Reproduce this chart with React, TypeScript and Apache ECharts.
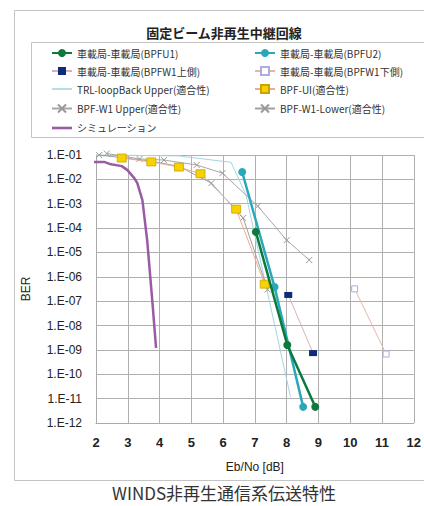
import React, { useEffect, useRef } from "react";
import * as echarts from "echarts";

const xTicks = [2, 3, 4, 5, 6, 7, 8, 9, 10, 11, 12];
const yMinExp = -12;
const yMaxExp = -1;

const names = [
  "車載局-車載局(BPFU1)",
  "車載局-車載局(BPFU2)",
  "車載局-車載局(BPFW1上側)",
  "車載局-車載局(BPFW1下側)",
  "TRL-loopBack Upper(適合性)",
  "BPF-UI(適合性)",
  "BPF-W1 Upper(適合性)",
  "BPF-W1-Lower(適合性)",
  "シミュレーション",
];

const bpfu1 = [[7.03, 7e-5], [8.02, 1.6e-9], [8.9, 4.6e-12]];
const bpfu2 = [[6.6, 2e-2], [7.62, 3.8e-7], [8.52, 4.6e-12]];
const bpfw1Up = [[8.05, 1.8e-7], [8.83, 7.4e-10]];
const bpfw1Low = [[10.14, 3.2e-7], [11.13, 6.8e-10]];
const trlLoop = [[2.0, 1.0e-1], [4.6, 9.2e-2], [6.25, 5.0e-2], [6.72, 2.3e-3], [8.12, 1.2e-11]];
const bpfUI = [[2.81, 7.5e-2], [3.74, 5.2e-2], [4.61, 3.2e-2], [5.29, 1.7e-2], [6.41, 6e-4], [7.31, 5e-7]];
const bpfW1Upper = [[2.34, 1.15e-1], [3.37, 6.9e-2], [4.14, 6.2e-2], [5.17, 3.9e-2], [5.98, 1.8e-2], [7.09, 8e-4], [8.0, 3.2e-5], [8.71, 4.9e-6]];
const bpfW1Lower = [[2.1, 1.0e-1], [3.74, 5.6e-2], [4.61, 3.4e-2], [5.63, 7e-3], [6.63, 2.6e-4], [7.4, 3e-7]];
const simulation = [[1.9, 5.1e-2], [2.28, 5.1e-2], [2.43, 4.3e-2], [2.81, 3.5e-2], [2.99, 2.4e-2], [3.21, 1.1e-2], [3.3, 7e-3], [3.46, 1.4e-3], [3.61, 3.2e-5], [3.77, 1.1e-7], [3.89, 1.2e-9]];

const CROSS = "path://M0,0L10,10M10,0L0,10";
const LINE_ICON = "path://M0,0L20,0L20,1.6L0,1.6Z";
const THICK_LINE_ICON = "path://M0,0L20,0L20,2.6L0,2.6Z";
const FONT = "'Noto Sans CJK JP', 'Noto Sans', sans-serif";

export default function App() {
  const ref = useRef<HTMLDivElement>(null);
  useEffect(() => {
    if (!ref.current) return;
    const chart = echarts.init(ref.current, undefined, { renderer: "svg" });
    const legendText = { fontSize: 10, color: "#333", fontFamily: FONT };
    chart.setOption({
      animation: false,
      backgroundColor: "#fff",
      textStyle: { fontFamily: FONT },
      graphic: [
        { type: "rect", shape: { x: 14.5, y: 10.5, width: 420, height: 470 }, style: { fill: "none", stroke: "#c4c4c4", lineWidth: 1 }, silent: true },
        { type: "rect", shape: { x: 31.5, y: 42.5, width: 400, height: 95 }, style: { fill: "none", stroke: "#c4c4c4", lineWidth: 1 }, silent: true },
        { type: "text", x: 224, y: 32, style: { text: "固定ビーム非再生中継回線", fontSize: 13, fontWeight: "bold", fill: "#222", align: "center", verticalAlign: "middle", fontFamily: FONT } },
        { type: "text", x: 224, y: 492, style: { text: "WINDS非再生通信系伝送特性", fontSize: 17, fill: "#333", align: "center", verticalAlign: "middle", fontFamily: FONT } },
      ],
      legend: [
        {
          orient: "vertical", left: 46, top: 43, itemWidth: 20, itemHeight: 10, itemGap: 8, textStyle: legendText,
          data: [names[0], names[2], { name: names[4], icon: LINE_ICON }, names[6], { name: names[8], icon: THICK_LINE_ICON }],
        },
        { orient: "vertical", left: 249, top: 43, itemWidth: 20, itemHeight: 10, itemGap: 8, textStyle: legendText, data: [names[1], names[3], names[5], names[7]] },
      ],
      grid: { left: 96, right: 6, top: 155, bottom: 83 },
      xAxis: {
        type: "value",
        min: xTicks[0],
        max: xTicks[xTicks.length - 1],
        interval: 1,
        name: "Eb/No [dB]",
        nameLocation: "middle",
        nameGap: 38,
        nameTextStyle: { fontSize: 12, color: "#222", fontFamily: "'Liberation Sans', sans-serif" },
        axisLine: { lineStyle: { color: "#aaa" } },
        axisTick: { show: false },
        axisLabel: { fontSize: 13, fontWeight: "bold", color: "#222", margin: 13, fontFamily: "'Liberation Sans', sans-serif" },
        splitLine: { show: true, lineStyle: { color: "#b0b0b0", width: 1 } },
      },
      yAxis: {
        type: "log",
        logBase: 10,
        min: Math.pow(10, yMinExp),
        max: Math.pow(10, yMaxExp),
        interval: 1,
        name: "BER",
        nameLocation: "middle",
        nameGap: 64,
        nameRotate: 90,
        nameTextStyle: { fontSize: 12, color: "#222", fontFamily: "'Liberation Sans', sans-serif" },
        axisLine: { show: true, lineStyle: { color: "#aaa" } },
        axisTick: { show: false },
        axisLabel: {
          fontSize: 12,
          color: "#222",
          margin: 14,
          fontFamily: "'Liberation Sans', sans-serif",
          formatter: (v: number) => {
            const e = Math.round(Math.log10(v));
            return "1.E-" + String(-e).padStart(2, "0");
          },
        },
        splitLine: { show: true, lineStyle: { color: "#b0b0b0", width: 1 } },
      },
      series: [
        { name: names[4], type: "line", data: trlLoop, symbol: "none", clip: false, lineStyle: { color: "#a6d6e0", width: 1 }, itemStyle: { color: "#a6d6e0" }, z: 2 },
        { name: names[6], type: "line", data: bpfW1Upper, symbol: CROSS, symbolSize: 6, clip: false, lineStyle: { color: "#a8a8a8", width: 1 }, itemStyle: { color: "none", borderColor: "#999", borderWidth: 1 }, z: 2 },
        { name: names[7], type: "line", data: bpfW1Lower, symbol: CROSS, symbolSize: 6, clip: false, lineStyle: { color: "#a0a0a0", width: 1 }, itemStyle: { color: "none", borderColor: "#999", borderWidth: 1 }, z: 2 },
        { name: names[5], type: "line", data: bpfUI, symbol: "rect", symbolSize: [9, 8], clip: false, lineStyle: { color: "#e9ad95", width: 1 }, itemStyle: { color: "#f7d100", borderColor: "#c9a400", borderWidth: 0.8 }, z: 3 },
        { name: names[8], type: "line", data: simulation, symbol: "none", clip: false, lineStyle: { color: "#9a5aa6", width: 2.5 }, itemStyle: { color: "#9a5aa6" }, z: 3 },
        { name: names[2], type: "line", data: bpfw1Up, symbol: "rect", symbolSize: [8, 6], lineStyle: { color: "#d9aec0", width: 1 }, itemStyle: { color: "#0d2d7c" }, z: 4 },
        { name: names[3], type: "line", data: bpfw1Low, symbol: "rect", symbolSize: [6, 6], lineStyle: { color: "#e9b4ad", width: 1 }, itemStyle: { color: "#fff", borderColor: "#a8aee0", borderWidth: 1 }, z: 4 },
        { name: names[1], type: "line", data: bpfu2, symbol: "circle", symbolSize: 8, lineStyle: { color: "#2aa8ba", width: 2.5 }, itemStyle: { color: "#2aa8ba" }, z: 5 },
        { name: names[0], type: "line", data: bpfu1, symbol: "circle", symbolSize: 8, lineStyle: { color: "#0c7a3c", width: 2.5 }, itemStyle: { color: "#0c7a3c" }, z: 6 },
      ],
    });
    return () => chart.dispose();
  }, []);
  return <div ref={ref} style={{ position: "absolute", left: 0, top: 0, width: 424, height: 506 }} />;
}
